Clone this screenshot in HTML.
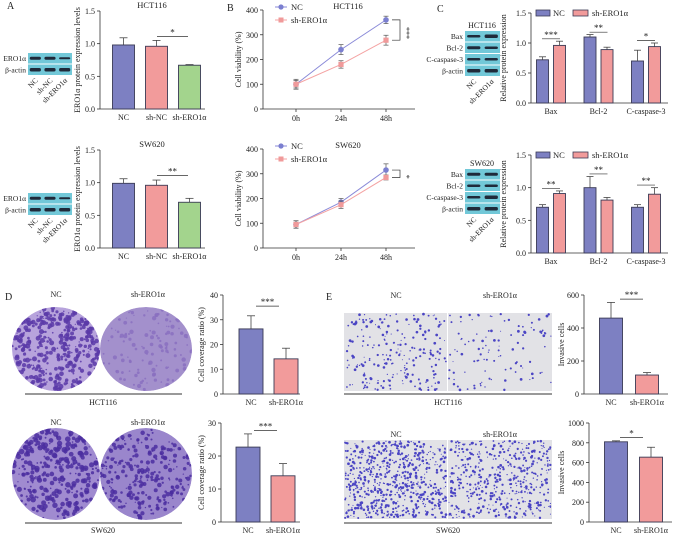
<!DOCTYPE html>
<html><head><meta charset="utf-8"><style>
html,body{margin:0;padding:0;background:#fff;}
svg{display:block;font-family:"Liberation Serif",serif;}
</style></head><body>
<svg id="fig" width="677" height="535" viewBox="0 0 677 535" xmlns="http://www.w3.org/2000/svg">
<defs>
<clipPath id="c1"><ellipse cx="56" cy="349" rx="44" ry="42"/></clipPath>
<clipPath id="c2"><ellipse cx="146" cy="349" rx="46" ry="42"/></clipPath>
<clipPath id="c3"><ellipse cx="56" cy="474" rx="44" ry="46"/></clipPath>
<clipPath id="c4"><ellipse cx="146" cy="474" rx="46" ry="46"/></clipPath>
</defs>
<g id="root"></g>
</svg>
<script>
// ---- data ----
const aCats = ["NC","sh-NC","sh-ERO1α"];
const aTopVals = [0.98, 0.96, 0.67];
const aTopErr = [0.11, 0.09, 0.01];
const aBotVals = [0.99, 0.96, 0.70];
const aBotErr = [0.07, 0.08, 0.06];
const aTicks = [0, 0.5, 1.0, 1.5];
const aTickLabels = ["0.0","0.5","1.0","1.5"];

const bCats = ["0h","24h","48h"];
const bTopNC = [100, 240, 360];
const bTopSh = [100, 180, 278];
const bTopNCErr = [20, 20, 15];
const bTopShErr = [15, 15, 20];
const bBotNC = [95, 185, 315];
const bBotSh = [95, 175, 285];
const bBotNCErr = [15, 15, 25];
const bBotShErr = [15, 15, 10];
const bTicks = [0, 100, 200, 300, 400];

const cCats = ["Bax","Bcl-2","C-caspase-3"];
const cTopNC = [0.72, 1.10, 0.70];
const cTopSh = [0.96, 0.89, 0.94];
const cTopNCErr = [0.05, 0.04, 0.18];
const cTopShErr = [0.07, 0.04, 0.06];
const cBotNC = [0.70, 1.00, 0.70];
const cBotSh = [0.91, 0.81, 0.90];
const cBotNCErr = [0.04, 0.17, 0.04];
const cBotShErr = [0.04, 0.04, 0.10];

const dCats = ["NC","sh-ERO1α"];
const dTopVals = [26.3, 14.2];
const dTopErr = [5.3, 4.3];
const dTopTicks = [0, 10, 20, 30, 40];
const dBotVals = [22.7, 14.0];
const dBotErr = [4.0, 3.7];
const dBotTicks = [0, 10, 20, 30];

const eTopVals = [460, 115];
const eTopErr = [95, 15];
const eTopTicks = [0, 200, 400, 600];
const eBotVals = [810, 655];
const eBotErr = [10, 100];
const eBotTicks = [0, 200, 400, 600, 800, 1000];

// ---- helpers ----
const NS = "http://www.w3.org/2000/svg";
const root = document.getElementById("root");
const BLUE = "#7d80c2", PINK = "#f29b9b", GREEN = "#a3d48d";
function el(tag, attrs, parent, text){
  const e = document.createElementNS(NS, tag);
  for (const k in attrs) e.setAttribute(k, attrs[k]);
  if (text !== undefined) e.textContent = text;
  (parent || root).appendChild(e);
  return e;
}
function txt(x, y, s, size, name, parent, anchor, rot){
  const t = el("text", {x:x, y:y, "font-size":size, "text-anchor":anchor||"middle", fill:"#222"}, parent, s);
  if (rot) t.setAttribute("transform", "rotate(" + rot + " " + x + " " + y + ")");
  
  
  return t;
}
function line(x1,y1,x2,y2,parent,stroke,w){
  return el("line",{x1:x1,y1:y1,x2:x2,y2:y2,stroke:stroke||"#333","stroke-width":w||0.8},parent);
}
function axes(g, ax, yTop, yBot, xEnd, ticks, labels, max, name){
  const ys = v => yBot - (v / max) * (yBot - yTop);
  const ya = line(ax, yTop, ax, yBot, g);
  
  
  const xa = line(ax, yBot, xEnd, yBot, g);
  
  
  ticks.forEach((v, i) => {
    line(ax - 3, ys(v), ax, ys(v), g);
    txt(ax - 5, ys(v) + 3, labels ? labels[i] : String(v), 8, name + '-y-tick', g, "end");
  });
  return ys;
}
function errBar(g, cx, yv, ye, w){
  line(cx, yv, cx, ye, g, "#444", 0.8);
  line(cx - w, ye, cx + w, ye, g, "#444", 0.8);
}
function sig(g, x1, x2, y, stars, name){
  const l = line(x1, y, x2, y, g, "#333", 0.7);
  
  
  txt((x1 + x2) / 2, y - 1, stars, 9, name + '-stars', g);
}
function simpleBars(cfg){
  const g = el("g", {});
  
  
  const ys = axes(g, cfg.ax, cfg.yTop, cfg.yBot, cfg.xEnd, cfg.ticks, cfg.tickLabels, cfg.max, cfg.name);
  cfg.vals.forEach((v, i) => {
    const cx = cfg.ax + cfg.off + i * cfg.step;
    errBar(g, cx, ys(v), ys(v + cfg.err[i]), 4);
    const r = el("rect", {x: cx - cfg.bw/2, y: ys(v), width: cfg.bw, height: cfg.yBot - ys(v), fill: cfg.colors[i], stroke:"#3a3a55","stroke-width":0.9}, g);
    
    
    txt(cx, cfg.yBot + 11, cfg.cats[i], 8, 'x-tick-label', g);
  });
  if (cfg.title) txt(cfg.titleX, cfg.titleY, cfg.title, 8.5, 'chart-title', g);
  txt(cfg.ytX, (cfg.yTop + cfg.yBot) / 2, cfg.ytitle, 8, 'y-axis-title', g, "middle", -90);
  return {g: g, ys: ys};
}
function blot(x, y, w, rows, labels, bands, name){
  const g = el("g", {});
  
  
  const rh = 10.5;
  rows.forEach((r, i) => {
    const yy = y + i * (rh + 1);
    el("rect", {x:x, y:yy, width:w, height:rh, fill:"#72c8d8"}, g);
    bands[i].forEach((bw, j) => {
      const n = bands[i].length;
      const cx = x + (j + 0.5) * w / n;
      el("rect", {x: cx - w/n*0.38, y: yy + rh/2 - bw/2, width: w/n*0.76, height: bw, rx:1.5, fill:"#1f2a3a"}, g);
    });
    txt(x - 2, yy + 8, r, 7.5, 'blot-row-label', g, "end");
  });
  labels.forEach((l, j) => {
    const cx = x + (j + 0.5) * w / labels.length + 3;
    txt(cx, y + rows.length * (rh + 1) + 5, l, 7.5, 'blot-lane-label', g, "end", -45);
  });
  return g;
}
// deterministic pseudo-random for image texture (not chart data)
let seed = 7;
function rnd(){ seed = (seed * 16807) % 2147483647; return (seed - 1) / 2147483646; }
function colony(cx, cy, rx, ry, clip, bg, dot, n, maxr, name){
  const g = el("g", {"clip-path":"url(#" + clip + ")"});
  
  
  el("ellipse", {cx:cx, cy:cy, rx:rx, ry:ry, fill:bg}, g);
  for (let i = 0; i < n; i++){
    const a = rnd() * 6.283, r = Math.sqrt(rnd());
    el("circle", {cx: cx + Math.cos(a) * r * rx, cy: cy + Math.sin(a) * r * ry, r: 0.6 + rnd() * maxr, fill: dot, opacity: 0.85}, g);
  }
}
function transwell(x, y, w, h, n, name){
  const g = el("g", {});
  
  
  el("rect", {x:x, y:y, width:w, height:h, fill:"#e2e2e6"}, g);
  for (let i = 0; i < n; i++){
    el("circle", {cx: x + 1 + rnd() * (w - 2), cy: y + 1 + rnd() * (h - 2), r: 0.5 + rnd() * 0.9, fill:"#4b45c4"}, g);
  }
}

// ---- panel letters ----
[["A",7,9],["B",227,11],["C",437,12],["D",5,300],["E",326,300]].forEach(p => {
  txt(p[1], p[2], p[0], 10, 'panel-label-' + p[0].toLowerCase(), null, "start");
});

// ---- Panel A ----
blot(28, 53, 44, ["ERO1α","β-actin"], ["NC","sh-NC","sh-ERO1α"], [[3,3,2],[3.5,3.5,3.5]], 'western-blot-a-hct116');
blot(28, 193, 44, ["ERO1α","β-actin"], ["NC","sh-NC","sh-ERO1α"], [[3,3,2],[3.5,3.5,3.5]], 'western-blot-a-sw620');
const aT = simpleBars({name:'chart-a-hct116', ax:100, yTop:11, yBot:109, xEnd:205, ticks:aTicks, tickLabels:aTickLabels, max:1.5,
  vals:aTopVals, err:aTopErr, cats:aCats, colors:[BLUE,PINK,GREEN], off:23.5, step:33, bw:22,
  title:"HCT116", titleX:152, titleY:8, ytitle:"ERO1α  protein expression levels", ytX:80});
sig(aT.g, 157, 188, aT.ys(1.11), "*", 'sig-a-top');
const aB = simpleBars({name:'chart-a-sw620', ax:100, yTop:150, yBot:248, xEnd:205, ticks:aTicks, tickLabels:aTickLabels, max:1.5,
  vals:aBotVals, err:aBotErr, cats:aCats, colors:[BLUE,PINK,GREEN], off:23.5, step:33, bw:22,
  title:"SW620", titleX:152, titleY:147, ytitle:"ERO1α  protein expression levels", ytX:80});
sig(aB.g, 157, 188, aB.ys(1.11), "**", 'sig-a-bot');

// ---- Panel B ----
function lineChart(name, yTop, yBot, nc, sh, ncErr, shErr, title, stars){
  const g = el("g", {});
  
  
  const ys = axes(g, 263, yTop, yBot, 415, bTicks, null, 400, name);
  const xs = i => 296 + i * 45;
  bCats.forEach((c, i) => { line(xs(i), yBot, xs(i), yBot + 3, g); txt(xs(i), yBot + 12, c, 8, 'x-tick-label', g); });
  [[nc, ncErr, "#8a8ad8", "circle", "NC"], [sh, shErr, "#f4a3a3", "square", "sh-ERO1α"]].forEach(s => {
    const pts = s[0].map((v, i) => xs(i) + "," + ys(v)).join(" ");
    const pl = el("polyline", {points: pts, fill:"none", stroke:s[2], "stroke-width":1}, g);
    
    
    s[0].forEach((v, i) => {
      line(xs(i), ys(v - s[1][i]), xs(i), ys(v + s[1][i]), g, "#555", 0.7);
      line(xs(i) - 2.5, ys(v - s[1][i]), xs(i) + 2.5, ys(v - s[1][i]), g, "#555", 0.7);
      line(xs(i) - 2.5, ys(v + s[1][i]), xs(i) + 2.5, ys(v + s[1][i]), g, "#555", 0.7);
      const m = s[3] === "circle" ? el("circle", {cx:xs(i), cy:ys(v), r:2.8, fill:"#7b7fd0"}, g)
                                  : el("rect", {x:xs(i)-2.6, y:ys(v)-2.6, width:5.2, height:5.2, fill:"#f09a9a"}, g);
      
      
    });
  });
  const lg = el("g", {}, g);
  
  
  line(275, yTop - 3, 287, yTop - 3, lg, "#8a8ad8", 1); el("circle", {cx:281, cy:yTop - 3, r:2.6, fill:"#7b7fd0"}, lg);
  txt(291, yTop, "NC", 8.5, 'legend-nc', lg, "start");
  line(275, yTop + 10, 287, yTop + 10, lg, "#f4a3a3", 1); el("rect", {x:278.5, y:yTop + 7.5, width:5, height:5, fill:"#f09a9a"}, lg);
  txt(291, yTop + 13, "sh-ERO1α", 8.5, 'legend-sh', lg, "start");
  txt(348, yTop - 1, title, 8.5, 'chart-title', g);
  txt(241, (yTop + yBot) / 2, "Cell viability (%)", 8, 'y-axis-title', g, "middle", -90);
  const y1 = ys(nc[2]), y2 = ys(sh[2]);
  const bp = el("polyline", {points: (xs(2)+6)+","+y1+" "+(xs(2)+14)+","+y1+" "+(xs(2)+14)+","+y2+" "+(xs(2)+6)+","+y2, fill:"none", stroke:"#333","stroke-width":0.7}, g);
  
  
  txt(xs(2) + 18, (y1 + y2) / 2 + 3, stars, 8, 'sig-stars', g, "middle", 90);
}
lineChart('chart-b-hct116', 10, 109, bTopNC, bTopSh, bTopNCErr, bTopShErr, "HCT116", "***");
lineChart('chart-b-sw620', 149, 248, bBotNC, bBotSh, bBotNCErr, bBotShErr, "SW620", "*");

// ---- Panel C ----
blot(465, 31, 35, ["Bax","Bcl-2","C-caspase-3","β-actin"], ["NC","sh-ERO1α"], [[2.5,3.5],[3,2.5],[2.5,2.5],[3.5,3.5]], 'western-blot-c-hct116');
txt(482, 28, "HCT116", 8, 'blot-title', null);
blot(465, 169, 35, ["Bax","Bcl-2","C-caspase-3","β-actin"], ["NC","sh-ERO1α"], [[3,3],[2.5,2.5],[2.5,3.5],[3.5,3.5]], 'western-blot-c-sw620');
txt(482, 166, "SW620", 8, 'blot-title', null);
function groupBars(name, yTop, yBot, nc, sh, ncE, shE, stars){
  const g = el("g", {});
  
  
  const ys = axes(g, 531, yTop, yBot, 668, aTicks, aTickLabels, 1.5, name);
  cCats.forEach((c, i) => {
    const gc = 551 + i * 47.5;
    [[nc, ncE, BLUE, -8.5, "nc"], [sh, shE, PINK, 8.5, "sh"]].forEach(s => {
      const v = s[0][i], cx = gc + s[3];
      errBar(g, cx, ys(v), ys(v + s[1][i]), 3.5);
      const r = el("rect", {x:cx - 6, y:ys(v), width:12, height:yBot - ys(v), fill:s[2], stroke:"#3a3a55","stroke-width":0.9}, g);
      
      
    });
    txt(gc, yBot + 11, c, 8, 'x-tick-label', g);
    const top = Math.max(nc[i] + ncE[i], sh[i] + shE[i]);
    sig(g, gc - 9, gc + 9, ys(Math.min(top + 0.04, 1.45)), stars[i], 'sig-' + c.toLowerCase());
  });
  const lg = el("g", {}, g);
  
  
  el("rect", {x:536, y:yTop - 3, width:14, height:6, fill:BLUE, stroke:"#3a3a55","stroke-width":0.8}, lg);
  txt(553, yTop + 3, "NC", 8.5, 'legend-nc', lg, "start");
  el("rect", {x:573, y:yTop - 3, width:15, height:6, fill:PINK, stroke:"#3a3a55","stroke-width":0.8}, lg);
  txt(592, yTop + 3, "sh-ERO1α", 8.5, 'legend-sh', lg, "start");
  txt(506, (yTop + yBot) / 2, "Relative protein expression", 8, 'y-axis-title', g, "middle", -90);
}
groupBars('chart-c-hct116', 13, 103, cTopNC, cTopSh, cTopNCErr, cTopShErr, ["***","**","*"]);
groupBars('chart-c-sw620', 155, 253, cBotNC, cBotSh, cBotNCErr, cBotShErr, ["**","**","**"]);

// ---- Panel D images ----
colony(56, 349, 44, 42, 'c1', "#b7a3dc", "#5b3aa8", 380, 2.0, 'colony-image-hct116-nc');
colony(146, 349, 46, 42, 'c2', "#a390cc", "#8a70c0", 120, 1.6, 'colony-image-hct116-sh');
colony(56, 474, 44, 46, 'c3', "#a08bd0", "#4b2ea0", 300, 2.2, 'colony-image-sw620-nc');
colony(146, 474, 46, 46, 'c4', "#9a86cc", "#4b2ea0", 260, 1.7, 'colony-image-sw620-sh');
txt(56, 297, "NC", 8, 'label-nc', null); txt(148, 297, "sh-ERO1α", 8, 'label-sh', null);
txt(56, 425, "NC", 8, 'label-nc', null); txt(148, 425, "sh-ERO1α", 8, 'label-sh', null);
line(25, 394, 182, 394, null, "#999", 2); txt(103, 405, "HCT116", 8, 'cell-line-label', null);
line(25, 523, 182, 523, null, "#999", 2); txt(103, 533, "SW620", 8, 'cell-line-label', null);

const dT = simpleBars({name:'chart-d-hct116', ax:223, yTop:295, yBot:394, xEnd:300, ticks:dTopTicks, max:40,
  vals:dTopVals, err:dTopErr, cats:dCats, colors:[BLUE,PINK], off:28, step:35, bw:24,
  ytitle:"Cell coverage ratio (%)", ytX:204});
sig(dT.g, 256, 279, dT.ys(35.5), "***", 'sig-d-top');
const dB = simpleBars({name:'chart-d-sw620', ax:221, yTop:423, yBot:522, xEnd:300, ticks:dBotTicks, max:30,
  vals:dBotVals, err:dBotErr, cats:dCats, colors:[BLUE,PINK], off:27, step:35, bw:24,
  ytitle:"Cell coverage ratio (%)", ytX:204});
sig(dB.g, 254, 277, dB.ys(27.7), "***", 'sig-d-bot');

// ---- Panel E ----
transwell(344, 313, 103, 78, 220, 'transwell-image-hct116-nc');
transwell(448, 313, 104, 78, 110, 'transwell-image-hct116-sh');
transwell(344, 440, 103, 79, 650, 'transwell-image-sw620-nc');
transwell(448, 440, 104, 79, 480, 'transwell-image-sw620-sh');
txt(396, 298, "NC", 8, 'label-nc', null); txt(500, 298, "sh-ERO1α", 8, 'label-sh', null);
txt(396, 437, "NC", 8, 'label-nc', null); txt(500, 437, "sh-ERO1α", 8, 'label-sh', null);
line(344, 394, 552, 394, null, "#999", 2); txt(448, 405, "HCT116", 8, 'cell-line-label', null);
line(344, 523, 552, 523, null, "#999", 2); txt(448, 533, "SW620", 8, 'cell-line-label', null);

const eT = simpleBars({name:'chart-e-hct116', ax:584, yTop:295, yBot:394, xEnd:668, ticks:eTopTicks, max:600,
  vals:eTopVals, err:eTopErr, cats:dCats, colors:[BLUE,PINK], off:27, step:36, bw:23,
  ytitle:"Invasive cells", ytX:564});
sig(eT.g, 620, 643, eT.ys(575), "***", 'sig-e-top');
const eB = simpleBars({name:'chart-e-sw620', ax:589, yTop:423, yBot:522, xEnd:672, ticks:eBotTicks, max:1000,
  vals:eBotVals, err:eBotErr, cats:dCats, colors:[BLUE,PINK], off:27, step:35, bw:23,
  ytitle:"Invasive cells", ytX:564});
sig(eB.g, 620, 643, eB.ys(855), "*", 'sig-e-bot');
</script>
</body></html>
